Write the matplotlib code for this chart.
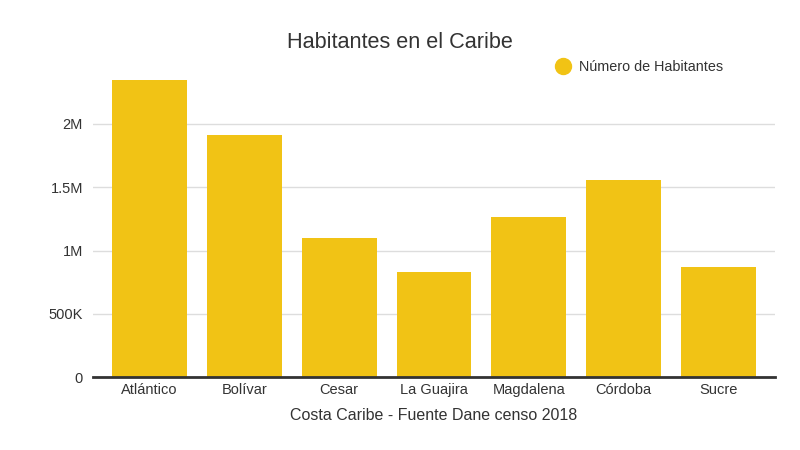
import matplotlib.pyplot as plt

plt.rcParams['font.family'] = ['Liberation Sans', 'DejaVu Sans']

departamentos = ['Atlántico', 'Bolívar', 'Cesar', 'La Guajira', 'Magdalena', 'Córdoba', 'Sucre']
habitantes = [2350000, 1915000, 1102000, 830000, 1268000, 1560000, 869000]
yticks = [0, 500000, 1000000, 1500000, 2000000]
ytick_labels = ['0', '500K', '1M', '1.5M', '2M']

color = '#F1C315'
text_color = '#333333'

fig = plt.figure(figsize=(8, 4.5), dpi=100)
ax = fig.add_axes([0.116, 0.162, 0.853, 0.675])

ax.bar(departamentos, habitantes, width=0.79, color=color, zorder=3,
       label='Número de Habitantes')

ax.set_xlim(-0.6, len(departamentos) - 0.4)
ax.set_ylim(0, 2.4e6)
ax.set_yticks(yticks)
ax.set_yticklabels(ytick_labels)
ax.grid(axis='y', color='#dddddd', linewidth=1, zorder=0)

for s in ['top', 'right', 'left']:
    ax.spines[s].set_visible(False)
ax.spines['bottom'].set_color(text_color)
ax.spines['bottom'].set_linewidth(2)
ax.spines['bottom'].set_zorder(4)

ax.tick_params(axis='both', length=0, labelsize=10.5, labelcolor=text_color)
ax.tick_params(axis='y', pad=7)
ax.tick_params(axis='x', pad=4.5)

ax.set_xlabel('Costa Caribe - Fuente Dane censo 2018', fontsize=11.5,
              color=text_color, labelpad=7.5)

fig.text(0.5, 0.906, 'Habitantes en el Caribe', ha='center', va='center',
         fontsize=15.6, color=text_color)

# leyenda arriba a la derecha
fig.legend(handles=[plt.Line2D([], [], marker='o', linestyle='', markersize=11.5,
                               color=color, label='Número de Habitantes')],
           loc='center left', bbox_to_anchor=(0.67, 0.851), frameon=False,
           fontsize=10.4, handletextpad=0.05, labelcolor=text_color)

fig.savefig('out.png', dpi=100)
